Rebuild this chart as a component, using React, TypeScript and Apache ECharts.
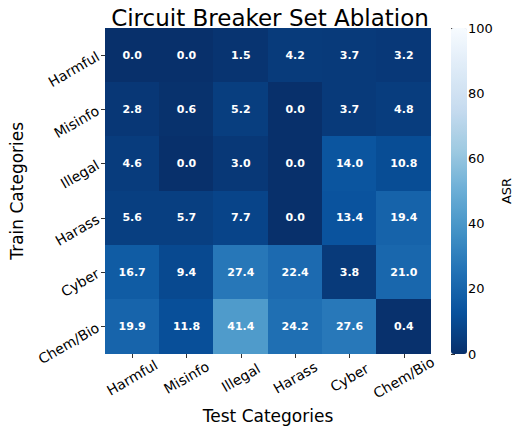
import React, { useEffect, useRef } from "react";
import * as echarts from "echarts";

const testCategories = ["Harmful", "Misinfo", "Illegal", "Harass", "Cyber", "Chem/Bio"];
const trainCategories = ["Harmful", "Misinfo", "Illegal", "Harass", "Cyber", "Chem/Bio"];
const rowHarmful = [0.0, 0.0, 1.5, 4.2, 3.7, 3.2];
const rowMisinfo = [2.8, 0.6, 5.2, 0.0, 3.7, 4.8];
const rowIllegal = [4.6, 0.0, 3.0, 0.0, 14.0, 10.8];
const rowHarass = [5.6, 5.7, 7.7, 0.0, 13.4, 19.4];
const rowCyber = [16.7, 9.4, 27.4, 22.4, 3.8, 21.0];
const rowChemBio = [19.9, 11.8, 41.4, 24.2, 27.6, 0.4];
const rows = [rowHarmful, rowMisinfo, rowIllegal, rowHarass, rowCyber, rowChemBio];

const bluesR = ["#08306b", "#08519c", "#2171b5", "#4292c6", "#6baed6", "#9ecae1", "#c6dbef", "#deebf7", "#f7fbff"];

export default function App() {
  const ref = useRef<HTMLDivElement>(null);
  useEffect(() => {
    if (!ref.current) return;
    const chart = echarts.init(ref.current, null, { renderer: "svg" });
    const data: [number, number, number][] = [];
    rows.forEach((r, yi) => r.forEach((v, xi) => data.push([xi, yi, v])));
    const font = "DejaVu Sans";
    chart.setOption({
      animation: false,
      textStyle: { fontFamily: font },
      title: {
        text: "Circuit Breaker Set Ablation",
        left: 265,
        top: 1,
        textAlign: "center",
        textStyle: { fontFamily: font, fontSize: 23, fontWeight: "normal", color: "#000" },
      },
      grid: [
        { left: 102, right: 83, top: 28, bottom: 74 },
        { left: 451, width: 16, top: 28, bottom: 75 },
      ],
      xAxis: [
        {
          type: "category",
          gridIndex: 0,
          data: testCategories,
          name: "Test Categories",
          nameLocation: "middle",
          nameGap: 53,
          nameTextStyle: { fontSize: 17, color: "#000", fontFamily: font },
          axisLine: { show: false },
          axisTick: { show: true, alignWithLabel: true, length: 4, lineStyle: { color: "#333" } },
          axisLabel: {
            rotate: 30,
            fontSize: 14,
            color: "#000",
            margin: 24,
            align: "center",
            verticalAlign: "middle",
            fontFamily: font,
          },
          splitArea: { show: false },
        },
        { type: "value", gridIndex: 1, show: false, min: 0, max: 1 },
      ],
      yAxis: [
        {
          type: "category",
          gridIndex: 0,
          data: trainCategories,
          inverse: true,
          name: "Train Categories",
          nameLocation: "middle",
          nameGap: 80,
          nameTextStyle: { fontSize: 17, color: "#000", fontFamily: font },
          axisLine: { show: false },
          axisTick: { show: true, alignWithLabel: true, length: 4, lineStyle: { color: "#333" } },
          axisLabel: { rotate: 30, fontSize: 14, color: "#000", margin: 7, fontFamily: font },
        },
        {
          type: "value",
          gridIndex: 1,
          position: "right",
          min: 0,
          max: 100,
          interval: 20,
          name: "ASR",
          nameLocation: "middle",
          nameGap: 38,
          nameTextStyle: { fontSize: 13, color: "#000", fontFamily: font },
          axisLine: { show: false },
          axisTick: { show: true, length: 4, lineStyle: { color: "#333" } },
          axisLabel: { fontSize: 13, color: "#000", margin: 6, fontFamily: font },
          splitLine: { show: false },
        },
      ],
      visualMap: {
        type: "continuous",
        min: 0,
        max: 100,
        seriesIndex: 0,
        calculable: false,
        left: 451,
        top: 28,
        padding: 0,
        itemWidth: 16,
        itemHeight: 326,
        text: ["", ""],
        showLabel: false,
        inRange: { color: bluesR },
      },
      series: [
        {
          type: "heatmap",
          xAxisIndex: 0,
          yAxisIndex: 0,
          data,
          label: {
            show: true,
            color: "#fff",
            fontWeight: "bold",
            fontSize: 11,
            fontFamily: font,
            formatter: (p: any) => (p.value[2] as number).toFixed(1),
          },
          itemStyle: { borderWidth: 0 },
          emphasis: { disabled: true },
        },
      ],
    });
    return () => chart.dispose();
  }, []);
  return (
    <>
      <style>{"#hm svg path { shape-rendering: crispEdges; }"}</style>
      <div id="hm" ref={ref} style={{ width: 514, height: 429, position: "absolute", left: 0, top: 0 }} />
    </>
  );
}
